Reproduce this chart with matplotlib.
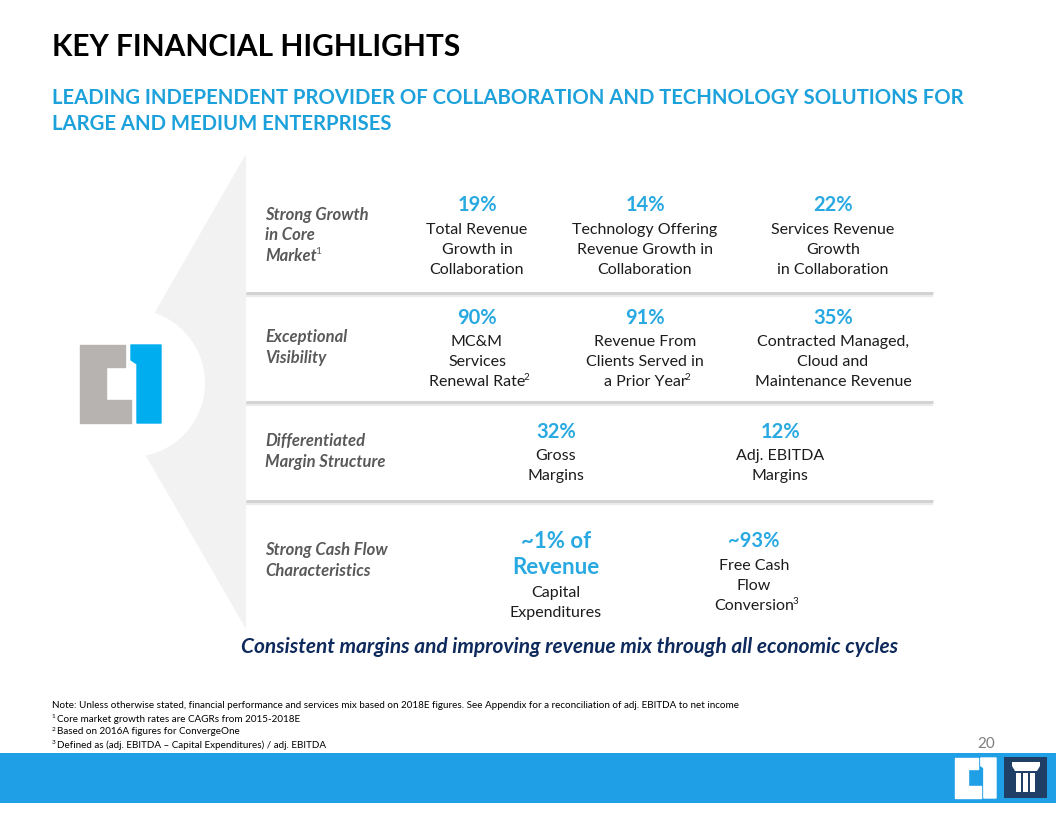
import matplotlib
matplotlib.use("Agg")
import matplotlib.pyplot as plt
from matplotlib.patches import Polygon, Circle, Rectangle

plt.rcParams['font.family'] = ['Lato', 'DejaVu Sans']

# ---- slide content ----
title = "KEY FINANCIAL HIGHLIGHTS"
subtitle = ["LEADING INDEPENDENT PROVIDER OF COLLABORATION AND TECHNOLOGY SOLUTIONS FOR",
            "LARGE AND MEDIUM ENTERPRISES"]

row_labels = [["Strong Growth", "in Core", "Market¹"],
              ["Exceptional", "Visibility"],
              ["Differentiated", "Margin Structure"],
              ["Strong Cash Flow", "Characteristics"]]

growth_values = ["19%", "14%", "22%"]
growth_desc = [["Total Revenue", "Growth in", "Collaboration"],
               ["Technology Offering", "Revenue Growth in", "Collaboration"],
               ["Services Revenue", "Growth", "in Collaboration"]]

visibility_values = ["90%", "91%", "35%"]
visibility_desc = [["MC&M", "Services", "Renewal Rate²"],
                   ["Revenue From", "Clients Served in", "a Prior Year²"],
                   ["Contracted Managed,", "Cloud and", "Maintenance Revenue"]]

margin_values = ["32%", "12%"]
margin_desc = [["Gross", "Margins"], ["Adj. EBITDA", "Margins"]]

cash_values = [["~1% of", "Revenue"], ["~93%"]]
cash_desc = [["Capital", "Expenditures"], ["Free Cash", "Flow", "Conversion³"]]

tagline = "Consistent margins and improving revenue mix through all economic cycles"
footnotes = ["Note: Unless otherwise stated, financial performance and services mix based on 2018E figures. "
             "See Appendix for a reconciliation of adj. EBITDA to net income",
             "¹ Core market growth rates are CAGRs from 2015-2018E",
             "² Based on 2016A figures for ConvergeOne",
             "³ Defined as (adj. EBITDA – Capital Expenditures) / adj. EBITDA"]
page_number = "20"

# ---- colours ----
BLUE = "#29A9E1"
SUB_BLUE = "#1DA1DB"
NAVY = "#0E2A5C"
LABEL_GRAY = "#595959"
TEXT = "#1C1C1C"
BAR_BLUE = "#1F9FE6"

SUPS = {"¹": "1", "²": "2", "³": "3"}

fig = plt.figure(figsize=(10.56, 8.16), dpi=100)
ax = fig.add_axes([0, 0, 1, 1])
ax.set_xlim(0, 1056)
ax.set_ylim(816, 0)
ax.axis('off')
renderer = fig.canvas.get_renderer()


def put(x, y, s, size, ha='left', **kw):
    """Text with a trailing or leading superscript digit drawn as a raised small number."""
    if s and s[-1] in SUPS:
        t = ax.text(x, y, s[:-1], fontsize=size, ha=ha, va='center', **kw)
        bb = t.get_window_extent(renderer)
        kw.pop('fontweight', None)
        kw.pop('style', None)
        ax.text(bb.x1 - 1.5, y - size * 0.35, SUPS[s[-1]], fontsize=size * 0.62,
                ha='left', va='center', **kw)
    elif s and s[0] in SUPS:
        ax.text(x, y - size * 0.35, SUPS[s[0]], fontsize=size * 0.65, ha='left', va='center', **kw)
        ax.text(x + size * 0.75, y, s[1:].lstrip(), fontsize=size, ha=ha, va='center', **kw)
    else:
        ax.text(x, y, s, fontsize=size, ha=ha, va='center', **kw)


# title block
ax.text(52, 47, title, fontsize=21.5, fontweight='bold', color='black', va='center')
for i, line in enumerate(subtitle):
    ax.text(52, 98 + i * 26, line, fontsize=14.6, fontweight='bold', color=SUB_BLUE, va='center')

# grey arrow shape with white circle cut out, logo inside
ax.add_patch(Polygon([(246, 154), (246, 629), (109, 392)], closed=True, color="#F2F2F2", lw=0, zorder=1))
ax.add_patch(Circle((131, 383), 74, color='white', lw=0, zorder=2))


def draw_logo(x0, y0, sx, sy, c_gray, c_blue, z=3):
    gray = [(0, 0), (45, 0), (45, 22), (26, 22), (26, 55), (51, 55), (51, 78), (0, 78)]
    blue = [(51, 0), (81, 0), (81, 78), (57, 78), (57, 19), (51, 15)]
    for pts, col in ((gray, c_gray), (blue, c_blue)):
        ax.add_patch(Polygon([(x0 + px * sx, y0 + py * sy) for px, py in pts], closed=True,
                             fc=col, ec=col, lw=1, joinstyle='round', zorder=z))


draw_logo(80, 345, 1.0, 1.0, "#B7B3B1", "#00AEEF")

# separator lines with soft shadow
for y in [293, 402, 501]:
    ax.plot([246, 933], [y + 1.5, y + 1.5], color="#EBEBEB", lw=3, solid_capstyle='butt', zorder=2)
    ax.plot([246, 933], [y, y], color="#D3D3D3", lw=2.2, solid_capstyle='butt', zorder=3)

# row labels
label_y = [215, 337, 441, 550]
for lines, y0 in zip(row_labels, label_y):
    for i, line in enumerate(lines):
        put(265, y0 + i * 20.5, line, 12, fontweight='bold', style='italic', color=LABEL_GRAY)


def stat(x, y, values, desc, gap=24, vstep=27, step=20, vsize=14.5):
    for i, v in enumerate(values):
        ax.text(x, y + i * vstep, v, fontsize=vsize, fontweight='bold', color=BLUE,
                ha='center', va='center')
    y_d = y + (len(values) - 1) * vstep + gap
    for i, line in enumerate(desc):
        put(x, y_d + i * step, line, 11.5, ha='center', color=TEXT)


three_cols = [477, 645, 833]
margin_cols = [556, 780]
cash_cols = [556, 754]
for x, v, d in zip(three_cols, growth_values, growth_desc):
    stat(x, 205, [v], d, gap=25)
for x, v, d in zip(three_cols, visibility_values, visibility_desc):
    stat(x, 318, [v], d)
for x, v, d in zip(margin_cols, margin_values, margin_desc):
    stat(x, 432, [v], d)
for x, v, d, vs in zip(cash_cols, cash_values, cash_desc, [16, 14.5]):
    stat(x, 541, v, d, gap=25, vsize=vs)

# tagline
ax.text(570, 647, tagline, fontsize=15, fontweight='bold', style='italic', color=NAVY,
        ha='center', va='center')

# footnotes
for i, line in enumerate(footnotes):
    put(52, 706 + i * 13, line, 7.1, color='black')
ax.text(986, 744, page_number, fontsize=11, color="#7F7F7F", ha='center', va='center')

# footer bar
ax.add_patch(Rectangle((0, 753), 1056, 50, color=BAR_BLUE, lw=0, zorder=1))
draw_logo(955, 758, 41 / 81, 40 / 78, 'white', 'white', z=3)
ax.add_patch(Rectangle((1004, 757), 43, 41, color="#1F3F66", lw=0, zorder=3))
ax.add_patch(Rectangle((1012, 762), 28, 4, color='white', lw=0, zorder=4))
ax.add_patch(Polygon([(1012, 766), (1040, 766), (1037, 771), (1015, 771)], closed=True,
                     color='white', lw=0, zorder=4))
for cx in [1016, 1023, 1030]:
    ax.add_patch(Rectangle((cx, 773), 5, 19, color='white', lw=0, zorder=4))

fig.savefig("out.png", dpi=100)
